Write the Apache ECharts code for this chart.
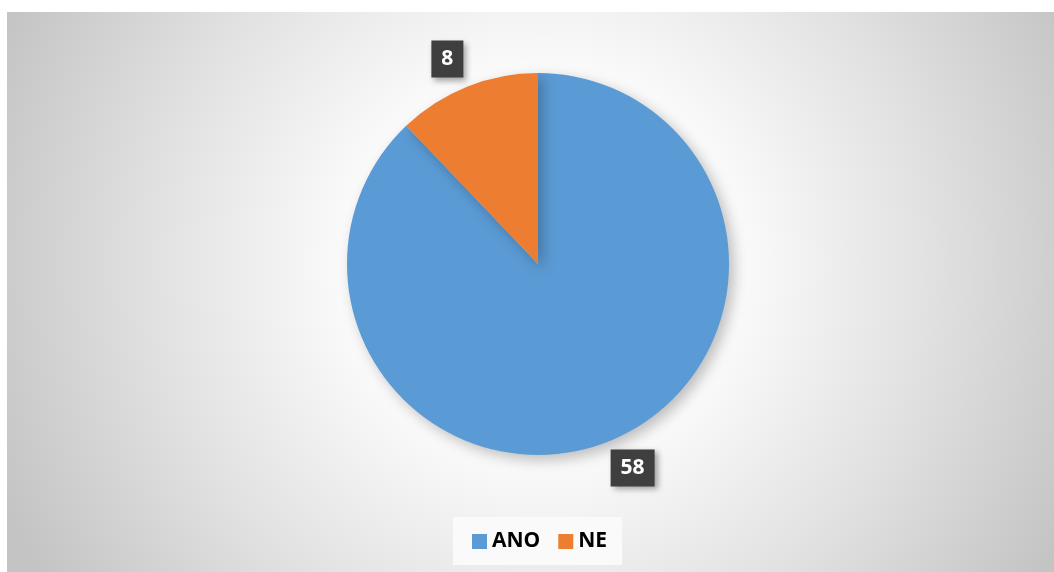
<!DOCTYPE html>
<html>
<head>
<meta charset="utf-8">
<script src="https://cdn.jsdelivr.net/npm/echarts@6/dist/echarts.min.js"></script>
<style>
  html, body { margin: 0; padding: 0; background: #ffffff; }
  #main {
    position: absolute;
    left: 7px;
    top: 12px;
    width: 1047px;
    height: 560px;
  }
</style>
</head>
<body>
<div id="main"></div>
<script>
var categories = ["ANO", "NE"];
var values = [58, 8];
var colors = ["#5b9bd5", "#ed7d31"];

var chartDom = document.getElementById("main");
var myChart = echarts.init(chartDom);
var option;

var pieData = categories.map(function (name, i) {
  return { name: name, value: values[i], itemStyle: { color: colors[i] } };
});

option = {
  backgroundColor: {
    type: "radial",
    x: 0.51,
    y: 0.45,
    r: 1.05,
    colorStops: [
      { offset: 0, color: "#ffffff" },
      { offset: 0.3, color: "#fdfdfd" },
      { offset: 0.65, color: "#e2e2e2" },
      { offset: 1, color: "#c4c4c4" }
    ]
  },
  animation: false,
  legend: {
    bottom: 7,
    left: 446,
    itemWidth: 15,
    itemHeight: 15,
    itemGap: 18,
    padding: [14, 15, 13, 19],
    backgroundColor: "#fafafa",
    icon: "rect",
    textStyle: {
      fontFamily: "Open Sans",
      fontWeight: "bold",
      fontSize: 21,
      color: "#000000"
    },
    data: categories
  },
  series: [
    {
      type: "pie",
      center: [531, 252],
      radius: 191,
      startAngle: 90,
      clockwise: true,
      data: pieData,
      itemStyle: {
        shadowBlur: 14,
        shadowOffsetX: 5,
        shadowOffsetY: 5,
        shadowColor: "rgba(0,0,0,0.25)"
      },
      label: {
        show: true,
        position: "outside",
        formatter: "{c}",
        backgroundColor: "#3f3f3f",
        color: "#ffffff",
        fontFamily: "Open Sans",
        fontWeight: "bold",
        fontSize: 21,
        padding: [8, 10, 8, 10],
        shadowBlur: 6,
        shadowOffsetX: 3,
        shadowOffsetY: 3,
        shadowColor: "rgba(0,0,0,0.35)"
      },
      labelLine: {
        show: true,
        length: 34,
        length2: 0,
        lineStyle: { opacity: 0 }
      },
      labelLayout: function (p) {
        var pts = p.labelLinePoints;
        if (!pts) return {};
        var end = pts[pts.length - 1];
        var right = end[0] > 531;
        return {
          x: end[0] + (right ? 11 : -7),
          y: end[1] + (right ? -5 : 4),
          align: "center",
          verticalAlign: "middle"
        };
      },
      emphasis: { disabled: true }
    }
  ]
};

option && myChart.setOption(option);
</script>
</body>
</html>
